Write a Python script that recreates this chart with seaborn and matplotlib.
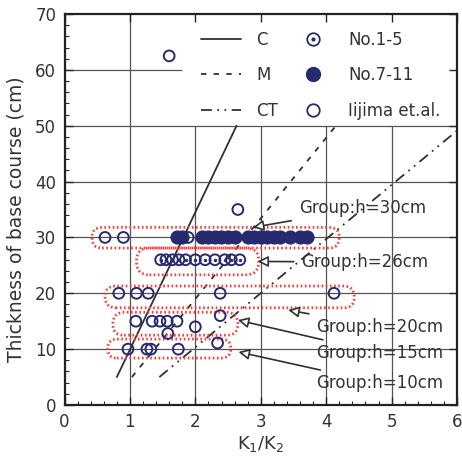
import numpy as np
import pandas as pd
import matplotlib
matplotlib.use('Agg')
from matplotlib import pyplot as plt
from matplotlib.lines import Line2D
from matplotlib.patches import FancyBboxPatch
import seaborn as sns

# design lines (end points)
line_names = ['C', 'M', 'CT']
line_x = [[0.8, 2.63], [1.03, 4.15], [1.45, 6.0]]
line_y = [[5, 50], [5, 50], [5, 49.1]]

# No.1-5 test results (h=26cm)
no15_x = [1.47, 1.55, 1.65, 1.75, 1.85, 2.0, 2.15, 2.3, 2.45, 2.55, 2.68]
no15_y = [26] * 11

# No.7-11 test results (h=30cm)
no711_x = [1.72, 1.8, 2.1, 2.2, 2.3, 2.4, 2.5, 2.6, 2.8, 2.9, 3.0, 3.1, 3.2, 3.3, 3.45, 3.6, 3.7]
no711_y = [30] * 17

# Iijima et.al.
iijima_x = [1.6, 2.65, 0.62, 0.9, 1.89,
            0.83, 1.1, 1.28, 2.38, 4.12,
            2.38, 1.09, 1.34, 1.46, 1.57, 1.72, 2.0, 1.58,
            0.97, 1.26, 1.32, 1.74, 2.34]
iijima_y = [62.5, 35, 30, 30, 30,
            20, 20, 20, 20, 20,
            16, 15, 15, 15, 15, 15, 14, 12.8,
            10, 10, 10, 10, 11.1]

# groups (dotted outlines) and their labels
group_labels = ['Group:h=30cm', 'Group:h=26cm', 'Group:h=20cm', 'Group:h=15cm', 'Group:h=10cm']
group_x0 = [0.42, 1.1, 0.62, 0.74, 0.66]
group_x1 = [4.2, 2.97, 4.43, 2.65, 2.54]
group_y0 = [28.1, 23.3, 17.4, 12.5, 8.4]
group_y1 = [31.8, 28.1, 21.3, 16.6, 11.8]
arrow_head = [(2.88, 31.8), (2.95, 25.7), (3.42, 17.0), (2.65, 15.2), (2.66, 9.5)]
label_pos = [(3.58, 35.2), (3.62, 25.6), (3.85, 14.0), (3.85, 9.3), (3.85, 3.9)]

navy = '#282a70'
red = '#ff3c3c'
dark = '#303030'

sns.set_style('ticks')
plt.rcParams['font.family'] = ['DejaVu Sans']
plt.rcParams['mathtext.default'] = 'regular'

fig = plt.figure(figsize=(4.62, 4.66), dpi=100)
ax = fig.add_axes([64.5 / 462, 61 / 466, (457 - 64.5) / 462, (405 - 14) / 466])

# grid drawn by hand so that the legend corner stays clear
for gx in [1, 2, 3, 4, 5]:
    top = 70 if gx < 1.8 else 50
    ax.vlines(gx, 0, top, color='#555555', lw=0.9, zorder=0.5)
for gy in [10, 20, 30, 40, 50, 60]:
    right = 6 if gy <= 50 else 1.8
    ax.hlines(gy, 0, right, color='#555555', lw=0.9, zorder=0.5)

# design lines
styles = ['-', (0, (3, 4)), (0, (6, 3, 1, 3, 1, 3))]
for i, name in enumerate(line_names):
    sns.lineplot(x=line_x[i], y=line_y[i], ax=ax, color=dark, lw=1.3, linestyle=styles[i],
                 estimator=None, sort=False)

# red dotted group outlines
aspect = (65.2 / 5.59)
for i in range(len(group_labels)):
    w = group_x1[i] - group_x0[i]
    h = group_y1[i] - group_y0[i]
    r = 0.97 * (h / 2) / aspect
    box = FancyBboxPatch((group_x0[i], group_y0[i]), w, h,
                         boxstyle='round,pad=0,rounding_size=%f' % r,
                         mutation_aspect=aspect,
                         fill=False, ec=red, lw=2.0, ls=(0, (0.6, 0.9)), zorder=2)
    ax.add_patch(box)

# data points
sns.scatterplot(x=no711_x, y=no711_y, ax=ax, s=85, color=navy, edgecolor=navy, linewidth=1, zorder=4)
sns.scatterplot(x=no15_x, y=no15_y, ax=ax, s=60, facecolors='none', edgecolor=navy, linewidth=1.4, zorder=4)
sns.scatterplot(x=no15_x, y=no15_y, ax=ax, s=4, color=navy, edgecolor=navy, linewidth=0.5, zorder=4)
sns.scatterplot(x=iijima_x, y=iijima_y, ax=ax, s=60, facecolors='none', edgecolor=navy, linewidth=1.4, zorder=4)

# group annotations
for i, lab in enumerate(group_labels):
    ax.annotate(lab, xy=arrow_head[i], xytext=label_pos[i], fontsize=12, color='#333333',
                ha='left', va='center', zorder=5,
                arrowprops=dict(arrowstyle='-|>', fc='white', ec=dark, lw=1.2,
                                mutation_scale=16, shrinkA=3, shrinkB=0))

ax.set_xlim(0, 6)
ax.set_ylim(0, 70)
ax.set_xticks(np.arange(0, 7, 1))
ax.set_yticks(np.arange(0, 80, 10))
ax.set_xticks(np.arange(0, 6.01, 0.2), minor=True)
ax.set_yticks(np.arange(0, 70.1, 2), minor=True)
ax.tick_params(which='major', direction='in', length=6, width=1, top=True, right=True,
               labelsize=12, labelcolor='#333333', pad=6)
ax.tick_params(which='minor', direction='in', length=3, width=0.8, top=False, right=False)
for sp in ax.spines.values():
    sp.set_linewidth(1.6)
    sp.set_color('#222222')

ax.set_xlabel('K$_1$/K$_2$', fontsize=13, color='#333333', labelpad=2)
ax.set_ylabel('Thickness of base course (cm)', fontsize=13.5, color='#333333', labelpad=4)
ax.yaxis.set_label_coords(-0.10, 0.476)

# legend
h_lines = [Line2D([], [], color=dark, lw=1.3, linestyle=s) for s in styles]
h_no15 = (Line2D([], [], marker='o', ls='none', mfc='none', mec=navy, ms=9, mew=1.3),
          Line2D([], [], marker='o', ls='none', mfc=navy, mec=navy, ms=2))
h_no711 = Line2D([], [], marker='o', ls='none', mfc=navy, mec=navy, ms=10)
h_iij = Line2D([], [], marker='o', ls='none', mfc='none', mec=navy, ms=9, mew=1.3)
leg = ax.legend(h_lines + [h_no15, h_no711, h_iij],
                line_names + ['No.1-5', 'No.7-11', 'Iijima et.al.'],
                ncol=2, loc='upper right', bbox_to_anchor=(1.0, 1.0), frameon=False,
                fontsize=12, handlelength=2.4, handletextpad=0.9, columnspacing=0.9,
                labelspacing=1.05, borderpad=1.0, borderaxespad=0)
for t in leg.get_texts():
    t.set_color('#333333')

fig.savefig('out.png', dpi=100)
